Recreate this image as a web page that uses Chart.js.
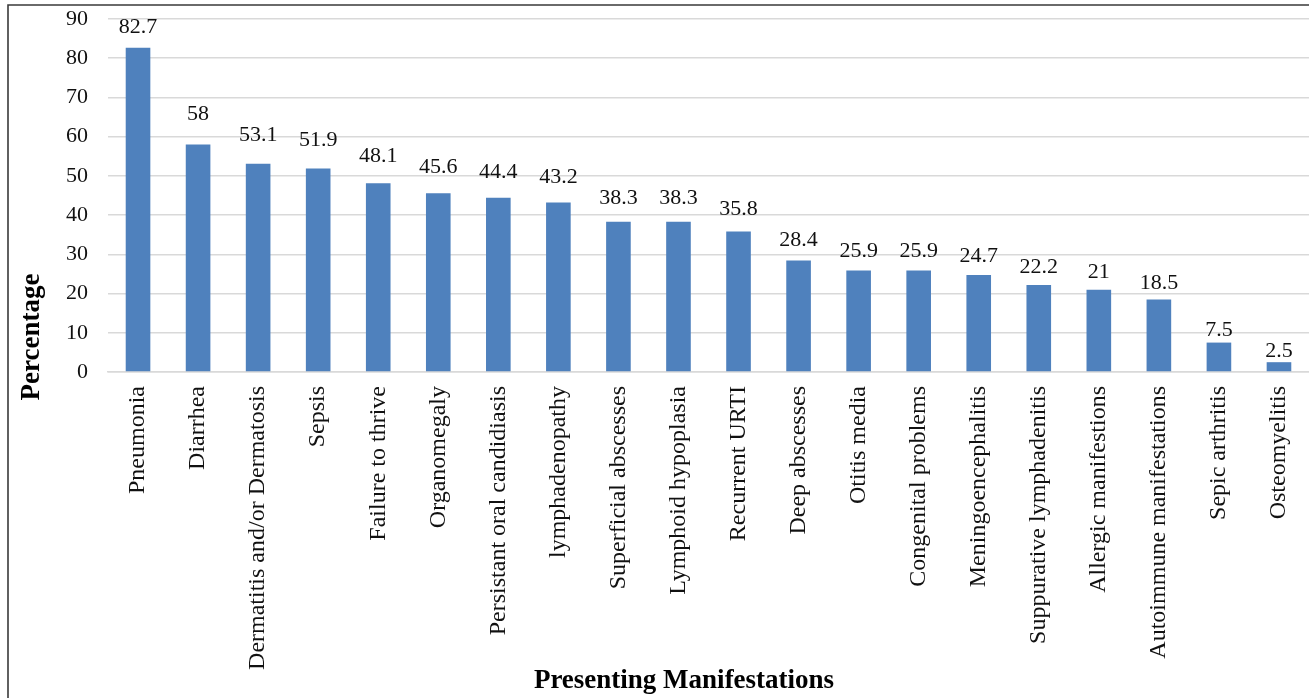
<!DOCTYPE html>
<html>
<head>
<meta charset="utf-8">
<script src="https://cdn.jsdelivr.net/npm/chart.js@4"></script>
<style>
  html, body { margin: 0; padding: 0; background: #fff; }
  #wrap { position: relative; width: 1309px; height: 698px; }
</style>
</head>
<body>
<div id="wrap"><canvas id="c" width="1309" height="698"></canvas></div>
<script>
const categories = [
  'Pneumonia', 'Diarrhea', 'Dermatitis and/or Dermatosis', 'Sepsis', 'Failure to thrive',
  'Organomegaly', 'Persistant oral candidiasis', 'lymphadenopathy', 'Superficial abscesses',
  'Lymphoid hypoplasia', 'Recurrent URTI', 'Deep abscesses', 'Otitis media', 'Congenital problems',
  'Meningoencephalitis', 'Suppurative lymphadenitis', 'Allergic manifestions',
  'Autoimmune manifestations', 'Sepic arthritis', 'Osteomyelitis'
];
const percentages = [82.7, 58, 53.1, 51.9, 48.1, 45.6, 44.4, 43.2, 38.3, 38.3, 35.8, 28.4, 25.9, 25.9, 24.7, 22.2, 21, 18.5, 7.5, 2.5];
const yTicks = [0, 10, 20, 30, 40, 50, 60, 70, 80, 90];
const xTitle = 'Presenting Manifestations';
const yTitle = 'Percentage';

const FONT = "'Liberation Serif', 'Times New Roman', serif";

// Frame lines, axis titles and value labels above each bar
const extras = {
  id: 'extras',
  afterDraw(chart) {
    const { ctx, chartArea } = chart;
    ctx.save();
    // frame (top and left edges)
    ctx.strokeStyle = '#3a3a3a';
    ctx.lineWidth = 1.6;
    ctx.beginPath();
    ctx.moveTo(8, 698);
    ctx.lineTo(8, 5);
    ctx.lineTo(1309, 5);
    ctx.stroke();

    // value labels: the gap above a bar widens with its height,
    // but a label never rises past the top of the plot
    const meta = chart.getDatasetMeta(0);
    ctx.fillStyle = '#111';
    ctx.font = '22px ' + FONT;
    ctx.textAlign = 'center';
    ctx.textBaseline = 'alphabetic';
    meta.data.forEach((bar, i) => {
      const v = percentages[i];
      const base = Math.max(bar.y - 4 - 0.36 * v, chartArea.top + 14);
      ctx.fillText(String(v), bar.x, base);
    });

    // axis titles
    ctx.font = 'bold 27px ' + FONT;
    ctx.fillStyle = '#000';
    ctx.textBaseline = 'alphabetic';
    ctx.fillText(xTitle, 684, 688);
    ctx.translate(39, 337);
    ctx.rotate(-Math.PI / 2);
    ctx.fillText(yTitle, 0, 0);
    ctx.restore();
  }
};

new Chart(document.getElementById('c'), {
  type: 'bar',
  data: {
    labels: categories,
    datasets: [{
      data: percentages,
      backgroundColor: '#4F81BD',
      borderWidth: 0,
      barPercentage: 0.41,
      categoryPercentage: 1.0
    }]
  },
  options: {
    responsive: false,
    animation: false,
    events: [],
    layout: { padding: { top: 19, left: 0, right: 0, bottom: 0 } },
    plugins: { legend: { display: false }, tooltip: { enabled: false } },
    scales: {
      x: {
        grid: { display: false, drawTicks: false },
        border: { display: true, color: '#d9d9d9', width: 1.5 },
        ticks: {
          color: '#111',
          font: { family: FONT, size: 24 },
          minRotation: 90,
          maxRotation: 90,
          autoSkip: false,
          padding: 14
        },
        afterFit(scale) {
          scale.height = 326;
          scale.paddingLeft = 0;
          scale.paddingRight = 0;
        }
      },
      y: {
        min: 0,
        max: 90,
        afterBuildTicks(scale) { scale.ticks = yTicks.map(v => ({ value: v })); },
        grid: { color: '#d9d9d9', lineWidth: 1.5, drawTicks: false },
        border: { display: false },
        ticks: {
          color: '#111',
          font: { family: FONT, size: 22 },
          padding: 20
        },
        afterFit(scale) {
          scale.width = 108;
          scale.paddingTop = 0;
          scale.paddingBottom = 0;
        }
      }
    }
  },
  plugins: [extras]
});
</script>
</body>
</html>
